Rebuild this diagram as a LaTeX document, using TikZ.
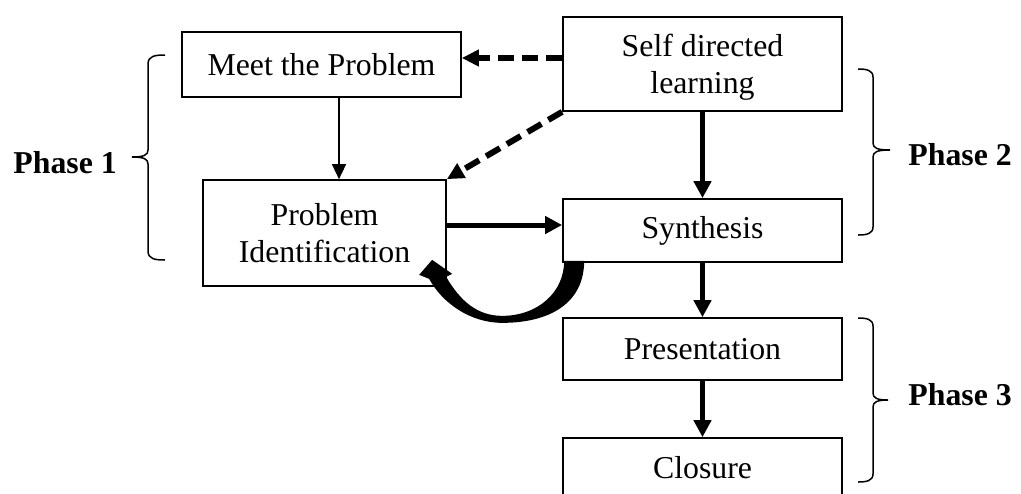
\documentclass[tikz,border=0pt]{standalone}
\usepackage{fontspec}
\setmainfont{Liberation Serif}
\usetikzlibrary{arrows.meta,calc}
\begin{document}
\begin{tikzpicture}[x=0.5pt,y=-0.5pt,
  box/.style={draw,line width=0.85pt,minimum width=139.5pt,align=center,inner sep=0pt,
    font=\fontsize{15.9pt}{18.6pt}\selectfont},
  thin arrow/.style={line width=0.75pt,-{Triangle[length=7.5pt,width=7pt]}},
  thick arrow/.style={line width=2.5pt,-{Triangle[length=8.5pt,width=8.5pt]}},
  dash arrow/.style={line width=3pt,dash pattern=on 8pt off 4pt,-{Triangle[length=8.5pt,width=8pt]}},
  brace/.style={line width=0.75pt},
  phase/.style={font=\fontsize{15.9pt}{18.6pt}\selectfont\bfseries,anchor=west,inner sep=0pt}]
\clip (0,0) rectangle (1021,493);

% process boxes
\node[box,minimum height=32.5pt] (meet) at (321.5,64.5) {Meet the Problem};
\node[box,minimum height=47pt,text depth=0pt] (self) at (702.5,64) {Self directed\\learning};
\node[box,minimum width=121.5pt,minimum height=53pt] (pid) at (324.5,233) {Problem\\Identification};
\node[box,minimum height=31.5pt] (syn) at (702.5,230.5) {Synthesis};
\node[box,minimum height=31pt] (pres) at (702.5,349) {Presentation};
\node[box,minimum height=30pt] (clo) at (702.5,468) {Closure};

% helper coordinates for straight connectors
\coordinate (xm) at (339,0);
\coordinate (yd) at (0,58);
\coordinate (ys) at (0,225);

% connectors
\draw[thin arrow] (meet.south -| xm) -- (pid.north -| xm);
\draw[dash arrow] (self.west |- yd) -- (meet.east |- yd);
\draw[dash arrow] (self.south west) -- (pid.north east);
\draw[thick arrow] (self.south) -- (syn.north);
\draw[thick arrow] (pid.east |- ys) -- (syn.west |- ys);
\draw[thick arrow] (syn.south) -- (pres.north);
\draw[thick arrow] (pres.south) -- (clo.north);

% curved block arrow back from Synthesis to Problem Identification
\begin{scope}[shift={(syn.south west)}]
\fill (22,-2) .. controls (22,40) and (-12,60) .. (-60,60)
  .. controls (-92,60) and (-120,40) .. (-133,16)
  -- (-143,12) -- (-130,-3) -- (-110,11) -- (-116,14)
  .. controls (-102,38) and (-85,53) .. (-60,53)
  .. controls (-25,53) and (2,30) .. (2,-2) -- cycle;
\end{scope}

% phase braces
\draw[brace] (165,55) .. controls (155,55) and (148,56) .. (148,64) -- (148,150)
  .. controls (148,155) and (144,157) .. (132,157)
  .. controls (144,157) and (148,159) .. (148,164) -- (148,251)
  .. controls (148,259) and (155,260) .. (165,260);
\draw[brace] (858,69) .. controls (866,69) and (873,70) .. (873,77) -- (873,143)
  .. controls (873,148) and (877,150) .. (890,150)
  .. controls (877,150) and (873,152) .. (873,157) -- (873,227)
  .. controls (873,234) and (866,235) .. (858,235);
\draw[brace] (858,318) .. controls (866,318) and (873,319) .. (873,326) -- (873,393)
  .. controls (873,398) and (877,400) .. (888,400)
  .. controls (877,400) and (873,402) .. (873,407) -- (873,474)
  .. controls (873,481) and (866,482) .. (858,482);

% phase labels
\node[phase] (p1) at (13,163) {Phase 1};
\node[phase] (p2) at (908,155) {Phase 2};
\node[phase] (p3) at (908,395) {Phase 3};
\end{tikzpicture}
\end{document}
